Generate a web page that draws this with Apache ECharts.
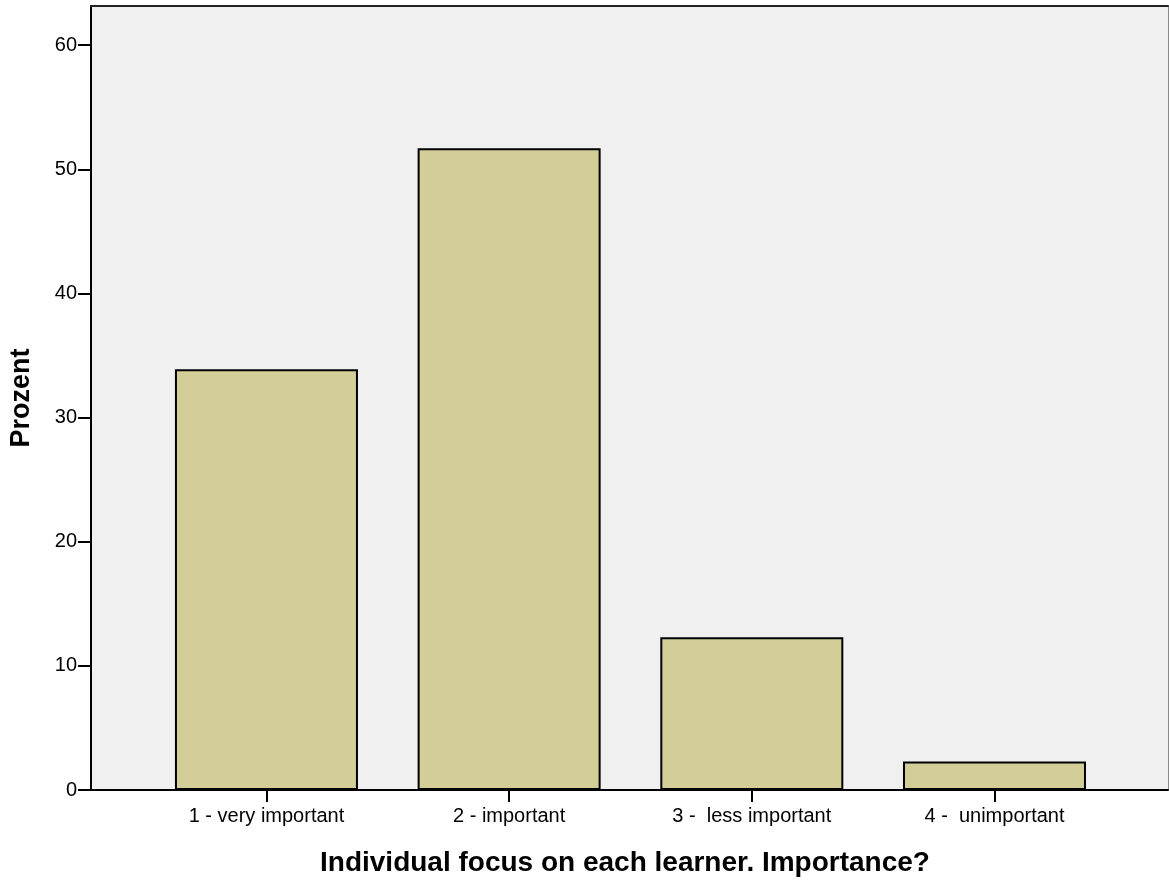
<!DOCTYPE html>
<html>
<head>
<meta charset="utf-8">
<script src="https://cdn.jsdelivr.net/npm/echarts@6/dist/echarts.min.js"></script>
<style>
html,body{margin:0;padding:0;background:#fff;}
#chart{width:1169px;height:884px;}
</style>
</head>
<body>
<div id="chart"></div>
<script>
const categories = ['1 - very important', '2 - important', '3 -  less important', '4 -  unimportant'];
const percentValues = [33.9, 51.7, 12.3, 2.3];
const yTickValues = [0, 10, 20, 30, 40, 50, 60];
const xAxisTitle = 'Individual focus on each learner. Importance?';
const yAxisTitle = 'Prozent';

const positions = categories.map((c, i) => i + 1);
const barData = percentValues.map((v, i) => [positions[i], v]);

const chart = echarts.init(document.getElementById('chart'), null, {renderer: 'canvas'});
const font = 'Liberation Sans, Arial, sans-serif';
chart.setOption({
  animation: false,
  backgroundColor: '#ffffff',
  grid: {left: 90, right: 1, top: 6, bottom: 94, show: true, backgroundColor: '#f0f0f0', borderWidth: 0},
  xAxis: [{
    type: 'value',
    min: 0.277,
    max: 4.715,
    position: 'bottom',
    splitLine: {show: false},
    axisLine: {show: true, lineStyle: {color: '#000', width: 2}},
    axisTick: {show: true, length: 12, lineStyle: {color: '#000', width: 2}, customValues: positions},
    axisLabel: {
      customValues: positions,
      margin: 16,
      fontSize: 20,
      color: '#000',
      fontFamily: font,
      formatter: v => categories[Math.round(v) - 1] || ''
    },
    name: xAxisTitle,
    nameLocation: 'middle',
    nameGap: 59,
    nameTextStyle: {fontSize: 28, fontWeight: 'bold', color: '#000', fontFamily: font, padding: [0, 9, 0, 0]}
  }, {
    type: 'value',
    min: 0.277,
    max: 4.715,
    position: 'top',
    splitLine: {show: false},
    axisLine: {show: true, onZero: false, lineStyle: {color: '#222', width: 2}},
    axisTick: {show: false},
    axisLabel: {show: false}
  }],
  yAxis: [{
    type: 'value',
    min: 0,
    max: 63.15,
    interval: 10,
    splitLine: {show: false},
    axisLine: {show: true, lineStyle: {color: '#000', width: 2}},
    axisTick: {show: true, length: 13, lineStyle: {color: '#000', width: 2}, customValues: yTickValues},
    axisLabel: {customValues: yTickValues, margin: 14, fontSize: 20, color: '#000', fontFamily: font},
    name: yAxisTitle,
    nameLocation: 'middle',
    nameGap: 56,
    nameRotate: 90,
    nameTextStyle: {fontSize: 27, fontWeight: 'bold', color: '#000', fontFamily: font}
  }, {
    type: 'value',
    min: 0,
    max: 63.15,
    position: 'right',
    splitLine: {show: false},
    axisLine: {show: true, onZero: false, lineStyle: {color: '#8a8a8a', width: 1}},
    axisTick: {show: false},
    axisLabel: {show: false}
  }],
  series: [{
    type: 'bar',
    xAxisIndex: 0,
    yAxisIndex: 0,
    data: barData,
    barWidth: 183,
    itemStyle: {color: '#d3ce97', borderColor: '#000', borderWidth: 2}
  }]
});
</script>
</body>
</html>
